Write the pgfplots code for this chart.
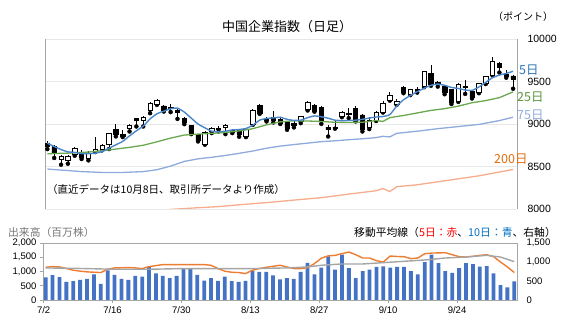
\documentclass[border=0pt]{standalone}
\usepackage{fontspec}
\setmainfont{Liberation Sans}
\newfontfamily\jp{Noto Sans CJK JP}
\usepackage{pgfplots}
\usepackage{pgfplotstable}
\pgfplotsset{compat=1.18}

\definecolor{volblue}{RGB}{68,114,196}
\definecolor{maorange}{RGB}{237,125,49}
\definecolor{magray}{RGB}{165,165,165}
\definecolor{ma5}{RGB}{74,134,200}
\definecolor{ma25}{RGB}{106,168,79}
\definecolor{ma75}{RGB}{143,170,220}
\definecolor{ma200}{RGB}{246,172,142}
\definecolor{lab5}{RGB}{46,117,182}
\definecolor{lab25}{RGB}{90,150,60}
\definecolor{lab75}{RGB}{143,170,220}
\definecolor{lab200}{RGB}{228,108,10}
\definecolor{axgray}{RGB}{166,166,166}
\definecolor{gridgray}{RGB}{232,232,232}
\definecolor{txtgray}{RGB}{118,118,118}
\definecolor{jred}{RGB}{255,0,0}
\definecolor{jblue}{RGB}{0,112,192}

\pgfplotstableread{
i O H L C
0 8775 8795 8705 8740
1 8736 8756 8600 8666
2 8587 8638 8521 8619
3 8572 8630 8533 8619
4 8638 8728 8627 8716
5 8670 8689 8588 8607
6 8599 8677 8572 8658
7 8680 8845 8670 8700
8 8705 8767 8690 8744
9 8756 8893 8705 8885
10 8940 9002 8854 8873
11 8877 8932 8846 8858
12 8944 8998 8912 8990
13 9065 9073 8971 9045
14 9049 9096 8971 9080
15 9159 9264 9127 9245
16 9237 9296 9225 9276
17 9213 9225 9147 9160
18 9192 9240 9140 9182
19 9160 9180 9060 9140
20 9069 9080 8998 9015
21 8980 8985 8881 8890
22 8878 8881 8795 8803
23 8767 8912 8756 8908
24 8912 8963 8893 8955
25 8947 8979 8912 8940
26 8963 8998 8881 8988
27 8928 8947 8893 8902
28 8928 8943 8850 8878
29 8854 8940 8846 8932
30 9002 9174 8990 9163
31 9219 9235 9119 9127
32 9069 9082 9030 9041
33 9080 9155 9018 9049
34 9057 9065 9000 9010
35 9018 9025 8932 8951
36 9010 9030 8960 8979
37 9030 9096 9010 9088
38 9178 9276 9159 9257
39 9217 9230 9145 9155
40 9198 9210 9002 9049
41 8963 8990 8853 8932
42 8963 9030 8945 8950
43 9088 9155 9080 9135
44 9125 9186 9069 9115
45 9186 9213 9030 9049
46 9108 9119 8912 8932
47 8963 9088 8940 9049
48 9049 9150 9035 9135
49 9143 9265 9135 9245
50 9284 9374 9275 9343
51 9237 9290 9225 9272
52 9433 9450 9362 9370
53 9354 9415 9340 9405
54 9405 9440 9370 9398
55 9440 9625 9433 9617
56 9597 9690 9450 9465
57 9490 9510 9440 9480
58 9440 9450 9350 9370
59 9405 9410 9235 9253
60 9264 9480 9260 9472
61 9445 9519 9354 9428
62 9382 9395 9300 9311
63 9370 9485 9362 9476
64 9480 9570 9470 9560
65 9577 9790 9570 9734
66 9710 9725 9605 9672
67 9589 9640 9545 9565
68 9566 9575 9415 9527
}\candles

\pgfplotstableread{
i v
0 8775
1 8735
2 8700
3 8672
4 8666
5 8652
6 8650
7 8657
8 8675
9 8715
10 8755
11 8795
12 8860
13 8920
14 8975
15 9060
16 9120
17 9150
18 9180
19 9186
20 9140
21 9070
22 9000
23 8955
24 8915
25 8910
26 8915
27 8930
28 8935
29 8947
30 8985
31 9045
32 9065
33 9072
34 9080
35 9055
36 9042
37 9045
38 9075
39 9095
40 9085
41 9068
42 9045
43 9040
44 9041
45 9045
46 9055
47 9070
48 9082
49 9088
50 9110
51 9210
52 9285
53 9335
54 9380
55 9420
56 9455
57 9470
58 9455
59 9430
60 9418
61 9400
62 9395
63 9435
64 9490
65 9545
66 9575
67 9595
68 9620
}\maA

\pgfplotstableread{
i v
0 8650
2 8655
4 8660
6 8670
8 8685
10 8705
12 8725
14 8750
16 8790
18 8834
20 8870
22 8881
24 8890
26 8900
28 8918
30 8945
32 8990
34 9025
36 9038
38 9035
40 9030
42 9020
44 9018
46 9020
48 9041
49 9030
50 9075
52 9100
54 9130
56 9160
58 9180
60 9210
62 9250
64 9275
66 9310
68 9378
}\maB

\pgfplotstableread{
i v
0 8470
2 8458
5 8440
8 8430
11 8430
14 8440
16 8462
18 8505
20 8560
22 8590
24 8608
26 8630
28 8655
30 8682
32 8715
34 8740
36 8758
38 8775
40 8792
42 8802
44 8815
46 8826
48 8840
49 8855
50 8848
51 8890
54 8915
57 8945
60 8970
63 8995
66 9040
68 9080
}\maC

\pgfplotstableread{
i v
0 7820
6 7880
12 7940
18 7995
22 8015
25 8028
28 8050
32 8075
36 8105
40 8133
44 8175
48 8215
49 8240
50 8205
51 8262
54 8285
57 8320
60 8355
63 8390
66 8435
68 8465
}\maD

\pgfplotstableread{
i v
0 790
1 870
2 800
3 640
4 660
5 710
6 740
7 900
8 570
9 1040
10 880
11 740
12 710
13 850
14 820
15 1150
16 930
17 850
18 770
19 850
20 1120
21 1120
22 880
23 680
24 770
25 670
26 820
27 660
28 640
29 670
30 1020
31 990
32 990
33 860
34 720
35 770
36 740
37 990
38 1300
39 900
40 1140
41 1530
42 1070
43 1590
44 1120
45 770
46 1010
47 1070
48 1160
49 1180
50 1140
51 1160
52 1160
53 1010
54 900
55 1330
56 1590
57 1290
58 1010
59 950
60 1120
61 1290
62 1260
63 1170
64 1190
65 930
66 520
67 440
68 650
}\vol

\pgfplotstableread{
i v
0 861
1 879
2 870
3 830
4 783
5 760
6 740
7 731
8 722
9 810
10 844
11 848
12 853
13 845
14 827
15 879
16 905
17 931
18 931
19 931
20 931
21 931
22 931
23 931
24 914
25 827
26 757
27 730
28 722
29 696
30 783
31 827
32 860
33 887
34 914
35 870
36 827
37 827
38 850
39 957
40 1100
41 1160
42 1175
43 1220
44 1262
45 1192
46 1105
47 1105
48 1035
49 1000
50 1157
51 1145
52 1140
53 1088
54 1105
55 1218
56 1235
57 1240
58 1244
59 1192
60 1140
61 1131
62 1150
63 1175
64 1192
65 1140
66 1000
67 870
68 722
}\volA

\pgfplotstableread{
i v
0 844
5 830
10 809
15 809
20 827
25 827
30 827
35 844
38 870
40 914
43 948
46 948
49 983
52 1018
55 1053
58 1105
61 1131
64 1175
66 1130
68 1010
}\volB

\pgfplotsset{
  upper/.style={at={(45pt,125pt)}, anchor=south west, width=472pt, height=170pt,
    scale only axis, xmin=-0.34, xmax=68.57, ymin=8000, ymax=10000},
  lower/.style={at={(43pt,34pt)}, anchor=south west, width=474pt, height=57pt,
    scale only axis, xmin=-0.39, xmax=68.4},
}

\begin{document}
\begin{tikzpicture}[x=1pt,y=1pt]
\path[use as bounding box] (0,0) rectangle (567,334);

% ---------- upper: grid, axes, wicks
\begin{axis}[upper,
  axis x line=none,
  axis y line=box,
  y axis line style={draw=axgray, line width=0.8pt},
  ytick={8000,8500,9000,9500,10000},
  scaled y ticks=false,
  yticklabel pos=right,
  ymajorgrids, grid style={draw=gridgray, line width=0.6pt},
  major tick length=0pt,
  yticklabel style={font=\fontsize{10.5}{12}\selectfont, xshift=7pt},
  /pgf/number format/.cd, 1000 sep={}, assume math mode=true]
\addplot[only marks, mark=none,
  error bars/.cd, y dir=plus, y explicit, error mark=none,
  error bar style={black, line width=0.7pt}]
  table[x=i, y=L, y error expr=\thisrow{H}-\thisrow{L}] {\candles};
\end{axis}

% ---------- upper: candle bodies
\begin{axis}[upper, hide axis, ybar stacked, bar width=4.4pt]
\addplot[draw=none, fill=none] table[x=i, y expr={min(\thisrow{O},\thisrow{C})}] {\candles};
\addplot[fill=white, draw=black, line width=0.6pt] table[x=i, y expr={max(\thisrow{C}-\thisrow{O},0)}] {\candles};
\addplot[fill=black, draw=black, line width=0.6pt] table[x=i, y expr={max(\thisrow{O}-\thisrow{C},0)}] {\candles};
\end{axis}

% ---------- upper: moving averages
\begin{axis}[upper, hide axis]
\addplot[ma200, line width=1.3pt] table[x=i, y=v] {\maD};
\addplot[ma75, line width=1.3pt] table[x=i, y=v] {\maC};
\addplot[ma25, line width=1.3pt] table[x=i, y=v] {\maB};
\addplot[ma5, line width=1.4pt, smooth, tension=0.3] table[x=i, y=v] {\maA};
\end{axis}

% ---------- lower: volume bars
\begin{axis}[lower, ymin=0, ymax=2000,
  axis line style={draw=axgray, line width=0.8pt},
  tick pos=left, tick align=outside, major tick length=3pt,
  tick style={draw=axgray, line width=0.6pt},
  ytick={0,500,1000,1500,2000},
  scaled y ticks=false,
  xtick={-0.3,9.7,19.7,29.7,39.7,49.7,59.7},
  xticklabels={7/2,7/16,7/30,8/13,8/27,9/10,9/24},
  ticklabel style={font=\fontsize{9.5}{11}\selectfont},
  ybar, bar width=3.8pt,
  /pgf/number format/.cd, 1000 sep={,}, assume math mode=true]
\addplot[fill=volblue, draw=none] table[x=i, y=v] {\vol};
\end{axis}

% ---------- lower: moving averages (right axis)
\begin{axis}[lower, ymin=0, ymax=1500,
  axis x line=none, axis y line*=right,
  y axis line style={draw=axgray, line width=0.8pt},
  ytick={0,500,1000,1500}, major tick length=0pt,
  scaled y ticks=false,
  yticklabel style={font=\fontsize{9.5}{11}\selectfont, xshift=6pt},
  /pgf/number format/.cd, 1000 sep={,}, assume math mode=true]
\addplot[maorange, line width=1.4pt] table[x=i, y=v] {\volA};
\addplot[magray, line width=1.4pt] table[x=i, y=v] {\volB};
\end{axis}

% ---------- texts
\node[font=\jp\fontsize{13}{15}\selectfont] at (287,307) {中国企業指数（日足）};
\node[font=\jp\fontsize{10}{12}\selectfont] at (523,317) {（ポイント）};
\node[anchor=west, font=\jp\fontsize{10.5}{12}\selectfont, inner sep=0pt] at (47,144) {（直近データは10月8日、取引所データより作成）};
\node[anchor=west, font=\jp\fontsize{12.5}{14}\selectfont, text=lab5, inner sep=0pt] at (519,264) {5日};
\node[anchor=west, font=\jp\fontsize{12.5}{14}\selectfont, text=lab25, inner sep=0pt] at (517,237) {25日};
\node[anchor=west, font=\jp\fontsize{12.5}{14}\selectfont, text=lab75, inner sep=0pt] at (517,219) {75日};
\node[anchor=west, font=\jp\fontsize{12.5}{14}\selectfont, text=lab200, inner sep=0pt] at (494,175) {200日};
\node[anchor=west, font=\jp\fontsize{10.8}{12}\selectfont, text=txtgray, inner sep=0pt] at (8,102) {出来高（百万株）};
\node[anchor=east, font=\jp\fontsize{10.8}{12}\selectfont, inner sep=0pt] at (556,102) {移動平均線（\textcolor{jred}{5日：赤}、\textcolor{jblue}{10日：青}、右軸）};
\end{tikzpicture}
\end{document}
